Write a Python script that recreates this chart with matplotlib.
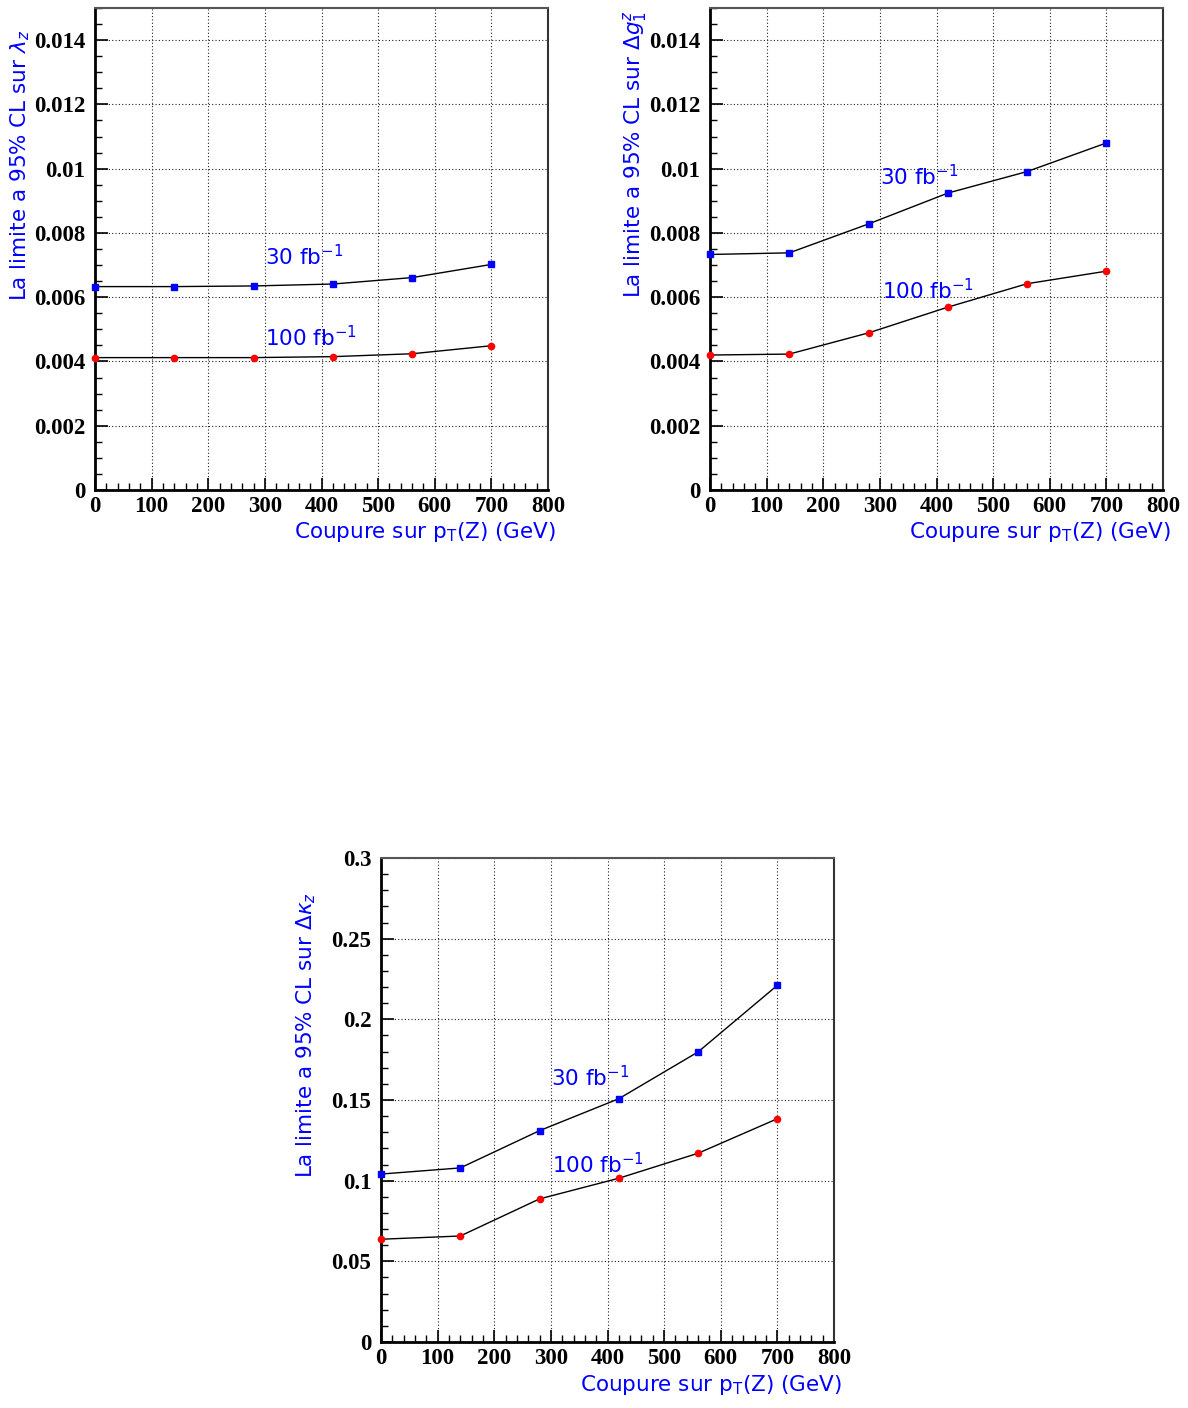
import matplotlib
matplotlib.use("Agg")
import matplotlib.pyplot as plt
from matplotlib.ticker import MultipleLocator

# pT(Z) cut values (GeV)
pt_cut = [0, 140, 280, 420, 560, 700]

# 95% CL limits
lambda_30 = [0.00633, 0.00633, 0.00635, 0.00641, 0.00661, 0.00702]
lambda_100 = [0.00412, 0.00412, 0.00412, 0.00415, 0.00424, 0.00449]

dg1_30 = [0.00733, 0.00738, 0.00828, 0.00924, 0.00991, 0.01080]
dg1_100 = [0.00420, 0.00423, 0.00489, 0.00569, 0.00642, 0.00681]

dkappa_30 = [0.1041, 0.1079, 0.1310, 0.1508, 0.1798, 0.2211]
dkappa_100 = [0.0637, 0.0657, 0.0887, 0.1015, 0.1170, 0.1384]

BLUE = "#0000ff"

plt.rcParams["font.family"] = "Liberation Serif"
plt.rcParams["mathtext.fontset"] = "dejavusans"
BLUE_FONT = dict(color=BLUE, family="DejaVu Sans")


def draw_panel(ax, y30, y100, ymax, ymajor, yminor, ylabel, lab30, lab100, ylab_top):
    ax.plot(pt_cut, y30, color="black", lw=1.0, zorder=3)
    ax.plot(pt_cut, y30, ls="none", marker="s", ms=4.5, color=BLUE, zorder=4,
            clip_on=False)
    ax.plot(pt_cut, y100, color="black", lw=1.0, zorder=3)
    ax.plot(pt_cut, y100, ls="none", marker="o", ms=4.5, color="red", zorder=4,
            clip_on=False)

    ax.set_xlim(0, 800)
    ax.set_ylim(0, ymax)
    ax.xaxis.set_major_locator(MultipleLocator(100))
    ax.xaxis.set_minor_locator(MultipleLocator(20))
    ax.yaxis.set_major_locator(MultipleLocator(ymajor))
    ax.yaxis.set_minor_locator(MultipleLocator(yminor))
    ax.yaxis.set_major_formatter(plt.FuncFormatter(lambda v, p: "%g" % round(v, 6)))
    ax.grid(True, which="major", ls=(0, (1, 2)), color="#222222", lw=0.8)

    ax.tick_params(which="both", direction="in", top=False, right=False,
                   labelsize=16.5)
    ax.tick_params(which="major", length=9, width=1.2)
    ax.tick_params(which="minor", length=5, width=1.0)
    ax.tick_params(axis="y", pad=7)
    ax.tick_params(axis="x", pad=4)
    for lab in ax.get_xticklabels() + ax.get_yticklabels():
        lab.set_fontweight("bold")

    for side in ("left", "bottom"):
        ax.spines[side].set_linewidth(2.0)
        ax.spines[side].set_color("black")
    ax.spines["top"].set_linewidth(1.5)
    ax.spines["top"].set_color("#555555")
    ax.spines["right"].set_linewidth(1.5)
    ax.spines["right"].set_color("#333333")

    ax.text(-0.166, ylab_top, ylabel, transform=ax.transAxes, rotation=90,
            ha="center", va="top", fontsize=15.5, **BLUE_FONT)
    ax.text(1.018, -0.088, r"Coupure sur p$_{\mathrm{T}}$(Z) (GeV)",
            transform=ax.transAxes, ha="right", va="center", fontsize=15.5,
            **BLUE_FONT)

    ax.text(lab30[0], lab30[1], r"30 fb$^{-1}$", fontsize=15.5,
            ha="left", va="center", **BLUE_FONT)
    ax.text(lab100[0], lab100[1], r"100 fb$^{-1}$", fontsize=15.5,
            ha="left", va="center", **BLUE_FONT)


W, H = 1188, 1408
fig = plt.figure(figsize=(W / 100, H / 100), dpi=100)

ax1 = fig.add_axes([95 / W, (H - 490) / H, 453 / W, 482 / H])
ax2 = fig.add_axes([710 / W, (H - 490) / H, 453 / W, 482 / H])
ax3 = fig.add_axes([381 / W, (H - 1342) / H, 453 / W, 484 / H])

draw_panel(ax1, lambda_30, lambda_100, 0.015, 0.002, 0.0005,
           r"La limite a 95% CL sur $\lambda_{z}$",
           (300, 0.00725), (300, 0.00473), 0.955)
draw_panel(ax2, dg1_30, dg1_100, 0.015, 0.002, 0.0005,
           r"La limite a 95% CL sur $\Delta g^{z}_{1}$",
           (300, 0.00974), (303, 0.00622), 0.995)
draw_panel(ax3, dkappa_30, dkappa_100, 0.3, 0.05, 0.01,
           r"La limite a 95% CL sur $\Delta\kappa_{z}$",
           (300, 0.164), (302, 0.1097), 0.93)

fig.savefig("out.png", dpi=100)
